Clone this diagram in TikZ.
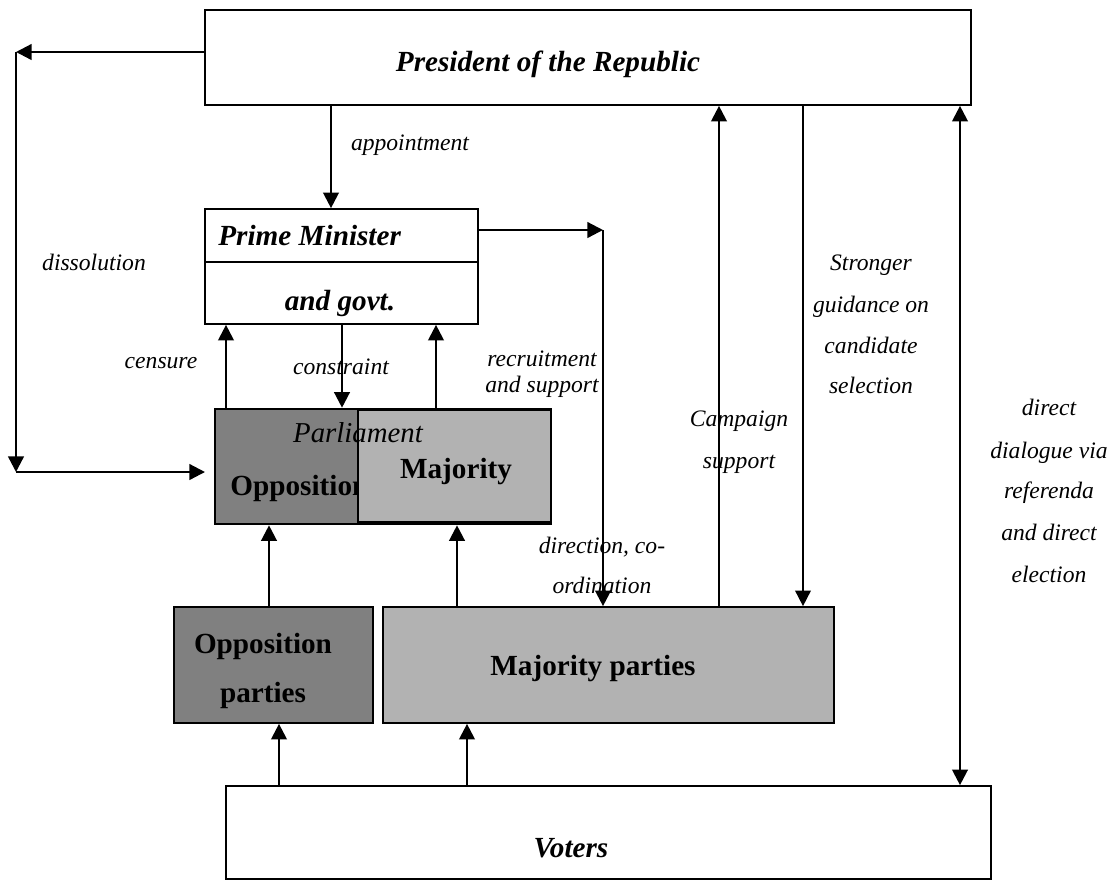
\documentclass[tikz,border=0pt]{standalone}
\usepackage{fontspec}
\setmainfont{Liberation Serif}
\usetikzlibrary{arrows.meta}

\begin{document}
\begin{tikzpicture}[%
      x=0.5pt, y=-0.5pt,
      box/.style={draw, line width=0.85pt, inner sep=0pt},
      darkbox/.style={box, fill=black!50},
      lightbox/.style={box, fill=black!30},
      boxtext/.style={anchor=base, inner sep=0pt, font=\fontsize{14.6}{17}\selectfont\bfseries},
      lbl/.style={anchor=base, inner sep=0pt, font=\fontsize{11.8}{14}\selectfont\itshape},
      arr/.style={line width=1.15pt, -{Triangle[length=7.8pt,width=7.8pt]}},
      arrs/.style={line width=1.15pt, {Triangle[length=7.8pt,width=7.8pt]}-{Triangle[length=7.8pt,width=7.8pt]}},
      ]
      \useasboundingbox (0,0) rectangle (1120,880);

      % boxes
      \node[box, minimum width=383pt, minimum height=47.5pt] (pres) at (588,57.5) {};
      \node[box, minimum width=136.5pt, minimum height=57.5pt] (pm) at (341.5,266.5) {};
      \draw[line width=0.85pt] ([yshift=2.25pt]pm.west) -- ([yshift=2.25pt]pm.east);
      \node[darkbox, minimum width=83.5pt, minimum height=57.5pt] (popp) at (298.5,466.5) {};
      \node[boxtext, anchor=base west] (popptext) at (230,495) {Opposition};
      \node[lightbox, minimum width=96.5pt, minimum height=56pt] (pmaj) at (454.5,466) {};
      \node[box, line width=1.3pt, minimum width=168pt, minimum height=57.5pt] (parl) at (383,466.5) {};
      \node[darkbox, minimum width=99.5pt, minimum height=58pt] (opparty) at (273.5,665) {};
      \node[lightbox, minimum width=225.5pt, minimum height=58pt] (majparty) at (608.5,665) {};
      \node[box, minimum width=382.5pt, minimum height=46.5pt] (voters) at (608.5,832.5) {};

      % box texts
      \node[boxtext, font=\fontsize{14.6}{17}\selectfont\bfseries\itshape] (prestext) at (548,71) {President of the Republic};
      \node[boxtext, font=\fontsize{14.6}{17}\selectfont\bfseries\itshape, anchor=base west] (pmtext) at (218,245) {Prime Minister};
      \node[boxtext, font=\fontsize{14.6}{17}\selectfont\bfseries\itshape] (govtext) at (340,310) {and govt.};
      \node[lbl, font=\fontsize{14.4}{17}\selectfont\itshape] (parltext) at (358,442) {Parliament};
      \node[boxtext] (pmajtext) at (456,478) {Majority};
      \node[boxtext] (oppartya) at (263,653) {Opposition};
      \node[boxtext] (oppartyb) at (263,702) {parties};
      \node[boxtext] (majpartytext) at (593,675) {Majority parties};
      \node[boxtext, font=\fontsize{14.6}{17}\selectfont\bfseries\itshape] (votertext) at (571,857) {Voters};

      % columns of the arrows
      \coordinate (xap) at (331,0);
      \coordinate (xcen) at (226,0);
      \coordinate (xcon) at (342,0);
      \coordinate (xrec) at (436,0);
      \coordinate (xopp) at (269,0);
      \coordinate (xmaj) at (457,0);
      \coordinate (xvo) at (279,0);
      \coordinate (xvm) at (467,0);
      \coordinate (xcam) at (719,0);
      \coordinate (xstr) at (803,0);
      \coordinate (xdir) at (960,0);
      \coordinate (pmc) at (603,230);
      \coordinate (d1) at (16,52);
      \coordinate (d2) at (16,472);
      \coordinate (d3) at (205,472);

      % arrows
      \draw[arr] (pres.west |- d1) -- (d1);
      \draw[arr] (d1) -- (d2);
      \draw[arr] (d2) -- (d3);
      \draw[arr] (pres.south -| xap) -- (pm.north -| xap);
      \draw[arr] (parl.north -| xcen) -- (pm.south -| xcen);
      \draw[arr] (pm.south -| xcon) -- (parl.north -| xcon);
      \draw[arr] (parl.north -| xrec) -- (pm.south -| xrec);
      \draw[arr] (opparty.north -| xopp) -- (parl.south -| xopp);
      \draw[arr] (majparty.north -| xmaj) -- (parl.south -| xmaj);
      \draw[arr] (voters.north -| xvo) -- (opparty.south -| xvo);
      \draw[arr] (voters.north -| xvm) -- (majparty.south -| xvm);
      \draw[arr] (pm.east |- pmc) -- (pmc);
      \draw[arr] (pmc) -- (majparty.north -| pmc);
      \draw[arr] (majparty.north -| xcam) -- (pres.south -| xcam);
      \draw[arr, line width=0.85pt] (pres.south -| xstr) -- (majparty.north -| xstr);
      \draw[arrs] (pres.south -| xdir) -- (voters.north -| xdir);

      % labels
      \node[lbl] (lapp) at (410,150) {appointment};
      \node[lbl] (ldis) at (94,270) {dissolution};
      \node[lbl] (lcen) at (161,368) {censure};
      \node[lbl] (lcon) at (341,374) {constraint};
      \node[lbl] (lreca) at (542,366) {recruitment};
      \node[lbl] (lrecb) at (542,392) {and support};
      \node[lbl] (ldira) at (602,553) {direction, co-};
      \node[lbl] (ldirb) at (602,593) {ordination};
      \node[lbl] (lcama) at (739,426) {Campaign};
      \node[lbl] (lcamb) at (739,468) {support};
      \foreach \t/\y in {Stronger/270, guidance on/312, candidate/353, selection/393}
        \node[lbl] (lstr\y) at (871,\y) {\t};
      \foreach \t/\y in {direct/415, dialogue via/458, referenda/498, and direct/540, election/582}
        \node[lbl] (ldd\y) at (1049,\y) {\t};
      \end{tikzpicture}
\end{document}
